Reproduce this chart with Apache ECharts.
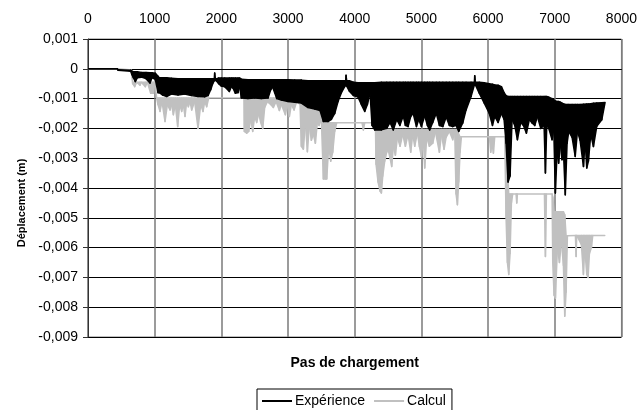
<!DOCTYPE html>
<html>
<head>
<meta charset="utf-8">
<script src="https://cdn.jsdelivr.net/npm/echarts@6/dist/echarts.min.js"></script>
<style>
html,body{margin:0;padding:0;background:#fff;}
#chart{width:640px;height:410px;}
</style>
</head>
<body>
<div id="chart"></div>
<script>
// Axis settings
const xMin = 0, xMax = 8000, xStep = 1000;
const yMin = -0.009, yMax = 0.001, yStep = 0.001;

// Expérience: [pas de chargement, upper edge (m), lower edge (m)] of the oscillating signal
const expData = [[0,0,0],[440,0,0],[450,-0.00003,-0.00005],[640,-0.00005,-0.00008],[660,-0.00008,-0.0002],[680,-0.0001,-0.0003],[710,-0.0001,-0.00043],[740,-0.0001,-0.0003],[800,-0.00012,-0.00028],[870,-0.00012,-0.00033],[930,-0.00013,-0.00048],[960,-0.00013,-0.0003],[1010,-0.00015,-0.00035],[1050,-0.00025,-0.0008],[1070,-0.0003,-0.0008],[1120,-0.0003,-0.00088],[1180,-0.0003,-0.00093],[1250,-0.00032,-0.00085],[1350,-0.00033,-0.00088],[1450,-0.00033,-0.00085],[1550,-0.00033,-0.0009],[1650,-0.00033,-0.00093],[1750,-0.00033,-0.00094],[1800,-0.00033,-0.0009],[1840,-0.00033,-0.0007],[1870,-0.00033,-0.0005],[1895,-0.00033,-0.0004],[1900,-0.00014,-0.00038],[1910,-0.00033,-0.00038],[1930,-0.00033,-0.00042],[1960,-0.00031,-0.0005],[2000,-0.00031,-0.00058],[2050,-0.00031,-0.0006],[2120,-0.00031,-0.00076],[2150,-0.00031,-0.0006],[2175,-0.00031,-0.00065],[2210,-0.00031,-0.00082],[2250,-0.00031,-0.0008],[2275,-0.00031,-0.0006],[2300,-0.00035,-0.00098],[2400,-0.00037,-0.001],[2500,-0.00037,-0.00098],[2600,-0.00037,-0.001],[2700,-0.00037,-0.00098],[2740,-0.00037,-0.0007],[2770,-0.00037,-0.00062],[2800,-0.00037,-0.0008],[2830,-0.00037,-0.001],[2900,-0.00037,-0.00105],[3000,-0.00037,-0.0011],[3100,-0.00038,-0.00112],[3200,-0.00038,-0.00115],[3300,-0.0004,-0.0013],[3400,-0.0004,-0.00135],[3480,-0.0004,-0.0014],[3530,-0.0004,-0.00177],[3600,-0.0004,-0.00177],[3650,-0.0004,-0.0017],[3700,-0.0004,-0.0015],[3750,-0.0004,-0.0011],[3800,-0.0004,-0.0008],[3850,-0.0004,-0.0006],[3865,-0.0004,-0.00055],[3870,-0.00022,-0.00055],[3880,-0.0004,-0.00058],[3920,-0.0004,-0.00075],[3980,-0.00045,-0.0009],[4050,-0.00047,-0.00095],[4100,-0.00047,-0.0012],[4150,-0.00047,-0.00143],[4190,-0.00047,-0.0012],[4230,-0.00047,-0.00082],[4260,-0.00047,-0.0019],[4300,-0.00047,-0.00205],[4400,-0.00045,-0.00205],[4480,-0.00045,-0.002],[4530,-0.00045,-0.0018],[4578,-0.00045,-0.00205],[4630,-0.00045,-0.0017],[4677,-0.00045,-0.0019],[4727,-0.00045,-0.00158],[4760,-0.00045,-0.0019],[4800,-0.00045,-0.00194],[4840,-0.00045,-0.0016],[4876,-0.00045,-0.00149],[4926,-0.00045,-0.00194],[4960,-0.00045,-0.0017],[5000,-0.00045,-0.00194],[5050,-0.00045,-0.00158],[5090,-0.00045,-0.0019],[5124,-0.00045,-0.00205],[5170,-0.00045,-0.0018],[5223,-0.00045,-0.00149],[5270,-0.00045,-0.0019],[5322,-0.00045,-0.00194],[5372,-0.00045,-0.00162],[5420,-0.00045,-0.0019],[5471,-0.00045,-0.00194],[5520,-0.00045,-0.0019],[5560,-0.00045,-0.0021],[5620,-0.00045,-0.00182],[5670,-0.00045,-0.00138],[5745,-0.00045,-0.00093],[5795,-0.00045,-0.00054],[5800,-0.00023,-0.0005],[5810,-0.00045,-0.00054],[5868,-0.00045,-0.00082],[5943,-0.00047,-0.00115],[6017,-0.0005,-0.00149],[6066,-0.00052,-0.0019],[6100,-0.00054,-0.0016],[6150,-0.00055,-0.0018],[6200,-0.0006,-0.0015],[6240,-0.0008,-0.0017],[6270,-0.0009,-0.0025],[6300,-0.00093,-0.0038],[6330,-0.00093,-0.0036],[6360,-0.00093,-0.0017],[6400,-0.00093,-0.0019],[6440,-0.00093,-0.00238],[6490,-0.00093,-0.0018],[6530,-0.00093,-0.0019],[6575,-0.00093,-0.00216],[6620,-0.00093,-0.0017],[6660,-0.00093,-0.00182],[6700,-0.00093,-0.0019],[6740,-0.00093,-0.0016],[6790,-0.00093,-0.002],[6840,-0.00093,-0.0019],[6860,-0.00093,-0.0035],[6880,-0.00093,-0.0019],[6910,-0.00095,-0.002],[6960,-0.001,-0.00238],[6985,-0.00104,-0.002],[7009,-0.00108,-0.00417],[7035,-0.0011,-0.0028],[7058,-0.0011,-0.00317],[7085,-0.00112,-0.0025],[7108,-0.00115,-0.00305],[7135,-0.00118,-0.003],[7158,-0.0012,-0.00423],[7185,-0.0012,-0.0025],[7210,-0.0012,-0.0021],[7260,-0.0012,-0.0023],[7307,-0.0012,-0.00294],[7340,-0.0012,-0.0021],[7380,-0.0012,-0.0024],[7431,-0.00119,-0.00328],[7455,-0.00119,-0.0024],[7480,-0.00118,-0.00333],[7505,-0.00118,-0.0031],[7540,-0.00117,-0.0022],[7580,-0.00116,-0.00261],[7630,-0.00115,-0.00193],[7705,-0.00114,-0.00171],[7755,-0.00113,-0.00113]];

// Calcul: [pas de chargement, base level (m), lower edge (m)] of the computed signal
const calData = [[0,0,0],[440,0,0],[620,-0.00003,-0.00005],[650,-0.00005,-0.0001],[670,-0.00045,-0.0005],[700,-0.00045,-0.0006],[730,-0.00045,-0.00045],[780,-0.00045,-0.00055],[800,-0.00045,-0.00045],[860,-0.00045,-0.0006],[890,-0.00045,-0.00045],[940,-0.00045,-0.00082],[980,-0.00045,-0.00082],[1000,-0.00045,-0.00045],[1030,-0.00098,-0.00098],[1050,-0.00098,-0.0012],[1080,-0.00098,-0.00143],[1110,-0.00098,-0.0011],[1155,-0.00098,-0.00177],[1190,-0.00098,-0.0012],[1230,-0.00098,-0.00138],[1255,-0.00098,-0.0012],[1280,-0.00098,-0.00154],[1310,-0.00098,-0.0012],[1345,-0.00098,-0.00194],[1375,-0.00098,-0.0012],[1405,-0.00098,-0.00143],[1430,-0.00098,-0.0012],[1455,-0.00098,-0.0016],[1480,-0.00098,-0.0011],[1505,-0.00098,-0.00127],[1530,-0.00098,-0.0011],[1555,-0.00098,-0.00138],[1600,-0.00098,-0.0011],[1650,-0.00098,-0.002],[1690,-0.00098,-0.0012],[1725,-0.00098,-0.00143],[1750,-0.00098,-0.0011],[1780,-0.00098,-0.00127],[1810,-0.00098,-0.00098],[2340,-0.00098,-0.00098],[2345,-0.00098,-0.0021],[2380,-0.00098,-0.00216],[2410,-0.00098,-0.0021],[2440,-0.00098,-0.0017],[2470,-0.00098,-0.0021],[2500,-0.00098,-0.0016],[2530,-0.00098,-0.0018],[2560,-0.00098,-0.0015],[2590,-0.00098,-0.0018],[2620,-0.00098,-0.002],[2650,-0.00098,-0.0013],[2690,-0.00098,-0.0011],[2740,-0.00098,-0.0012],[2780,-0.00098,-0.0013],[2820,-0.00098,-0.0011],[2870,-0.00098,-0.0014],[2900,-0.00098,-0.0012],[2960,-0.00098,-0.00154],[2990,-0.00098,-0.0012],[3020,-0.00098,-0.0016],[3050,-0.00098,-0.0012],[3090,-0.00098,-0.00138],[3130,-0.00098,-0.0011],[3180,-0.00098,-0.0012],[3200,-0.00098,-0.0026],[3230,-0.00098,-0.0027],[3260,-0.00098,-0.0018],[3290,-0.00098,-0.00278],[3320,-0.00098,-0.0019],[3350,-0.00098,-0.0024],[3380,-0.00098,-0.0022],[3410,-0.00098,-0.0025],[3440,-0.00098,-0.0018],[3465,-0.00098,-0.0019],[3500,-0.00098,-0.0017],[3530,-0.00181,-0.0037],[3560,-0.00181,-0.0037],[3580,-0.00181,-0.0037],[3610,-0.00181,-0.0026],[3640,-0.00181,-0.0031],[3670,-0.00181,-0.0028],[3700,-0.00181,-0.0021],[3730,-0.00181,-0.00181],[4110,-0.00181,-0.00181],[4130,-0.00181,-0.00205],[4150,-0.00181,-0.00181],[4310,-0.00181,-0.00181],[4320,-0.0019,-0.0032],[4350,-0.002,-0.0038],[4380,-0.002,-0.0041],[4400,-0.002,-0.00417],[4420,-0.00204,-0.0036],[4450,-0.00204,-0.0031],[4480,-0.00204,-0.0028],[4500,-0.00204,-0.0027],[4530,-0.00204,-0.003],[4555,-0.00204,-0.00328],[4580,-0.00204,-0.0026],[4610,-0.00204,-0.0029],[4640,-0.00204,-0.0023],[4680,-0.00204,-0.0026],[4720,-0.00204,-0.0022],[4760,-0.00204,-0.0026],[4800,-0.00204,-0.0022],[4840,-0.00204,-0.0028],[4870,-0.00204,-0.0022],[4900,-0.00204,-0.0026],[4940,-0.00204,-0.00215],[4970,-0.00204,-0.0026],[5000,-0.00204,-0.00294],[5030,-0.00204,-0.0024],[5050,-0.00204,-0.00333],[5080,-0.00204,-0.0023],[5120,-0.00204,-0.0026],[5170,-0.00204,-0.0025],[5210,-0.00204,-0.0021],[5270,-0.00204,-0.0028],[5300,-0.00204,-0.0022],[5340,-0.00204,-0.0027],[5370,-0.00204,-0.0023],[5420,-0.00204,-0.0021],[5470,-0.00204,-0.00238],[5500,-0.00204,-0.0021],[5520,-0.00204,-0.0042],[5540,-0.00204,-0.00456],[5560,-0.0022,-0.0038],[5580,-0.00228,-0.0028],[5600,-0.00228,-0.00228],[6020,-0.00228,-0.00228],[6040,-0.00228,-0.0028],[6060,-0.00228,-0.0025],[6080,-0.00228,-0.00283],[6100,-0.00228,-0.00228],[6250,-0.00228,-0.00228],[6270,-0.0025,-0.005],[6290,-0.0033,-0.0065],[6310,-0.0042,-0.0069],[6330,-0.0042,-0.0062],[6350,-0.0042,-0.0045],[6370,-0.0042,-0.0042],[6420,-0.0042,-0.0042],[6430,-0.0042,-0.0045],[6440,-0.0042,-0.0042],[6845,-0.0042,-0.0042],[6860,-0.0042,-0.0063],[6875,-0.0042,-0.0042],[6960,-0.0042,-0.0042],[6970,-0.0043,-0.0065],[6990,-0.0048,-0.0076],[7010,-0.0048,-0.0077],[7040,-0.0048,-0.006],[7070,-0.0048,-0.0065],[7100,-0.0048,-0.0058],[7130,-0.0048,-0.0066],[7150,-0.0049,-0.0083],[7170,-0.0056,-0.0075],[7190,-0.0056,-0.0056],[7310,-0.00559,-0.00559],[7320,-0.00559,-0.0063],[7330,-0.00559,-0.00559],[7400,-0.00559,-0.0059],[7430,-0.00559,-0.0069],[7450,-0.00559,-0.006],[7480,-0.00559,-0.0069],[7500,-0.00559,-0.007],[7520,-0.00559,-0.0062],[7550,-0.00559,-0.006],[7570,-0.00559,-0.00559],[7750,-0.00559,-0.00559]];

const seriesNames = ['Expérience', 'Calcul'];
const seriesColors = ['#000000', '#c0c0c0'];

// consecutive rows joined into segments [x0, hi0, lo0, x1, hi1, lo1]
function segments(rows) {
  const out = [];
  for (let i = 0; i < rows.length - 1; i++) {
    out.push(rows[i].concat(rows[i + 1]));
  }
  return out;
}

function renderBand(params, api) {
  const c = api.visual('color');
  const a = api.coord([api.value(0), api.value(1)]);
  const b = api.coord([api.value(3), api.value(4)]);
  const d = api.coord([api.value(3), api.value(5)]);
  const e = api.coord([api.value(0), api.value(2)]);
  return {
    type: 'polygon',
    shape: { points: [a, b, d, e] },
    style: { fill: c, stroke: c, lineWidth: 1.5, lineJoin: 'round' }
  };
}

const font = 'Liberation Sans, Arial, sans-serif';
const chart = echarts.init(document.getElementById('chart'), null, { renderer: 'canvas' });
chart.setOption({
  animation: false,
  backgroundColor: '#fff',
  textStyle: { fontFamily: font, color: '#000' },
  grid: { left: 88, right: 16, top: 39, bottom: 73, show: true, borderColor: '#808080', borderWidth: 1 },
  legend: {
    data: [{ name: seriesNames[0], icon: 'rect' }, { name: seriesNames[1], icon: 'rect' }],
    left: 257, top: 389,
    itemWidth: 30, itemHeight: 2, itemGap: 9,
    padding: [5, 6, 6, 5],
    borderColor: '#000', borderWidth: 1,
    textStyle: { fontFamily: font, fontSize: 14, color: '#000', padding: [0, 0, 0, -2] }
  },
  xAxis: [{
    type: 'value', position: 'top', min: xMin, max: xMax, interval: xStep,
    axisLine: { show: true, lineStyle: { color: '#000' } },
    axisTick: { show: false },
    axisLabel: { margin: 13, fontSize: 14, color: '#000', fontFamily: font, formatter: v => String(v) },
    splitLine: { show: true, lineStyle: { color: '#7a7a7a', width: 1.5 } }
  }, {
    type: 'value', position: 'bottom', min: xMin, max: xMax,
    axisLine: { show: false }, axisTick: { show: false }, axisLabel: { show: false }, splitLine: { show: false },
    name: 'Pas de chargement', nameLocation: 'middle', nameGap: 19,
    nameTextStyle: { fontFamily: font, fontSize: 14, fontWeight: 'bold', color: '#000' }
  }],
  yAxis: {
    type: 'value', min: yMin, max: yMax, interval: yStep,
    axisLine: { show: true, lineStyle: { color: '#333' } },
    axisTick: { show: true, length: 5, lineStyle: { color: '#333' } },
    axisLabel: {
      margin: 10, fontSize: 14, color: '#000', fontFamily: font,
      formatter: v => Math.abs(v) < 1e-12 ? '0' : v.toFixed(3).replace('.', ',')
    },
    splitLine: { show: true, lineStyle: { color: '#000', width: 1 } },
    name: 'Déplacement (m)', nameLocation: 'middle', nameGap: 60,
    nameTextStyle: { fontFamily: font, fontSize: 11, fontWeight: 'bold', color: '#000', padding: [0, 30, 0, 0] }
  },
  series: [{
    name: seriesNames[0], type: 'custom', xAxisIndex: 0, z: 3,
    itemStyle: { color: seriesColors[0] },
    renderItem: renderBand, clip: true,
    encode: { x: [0, 3], y: [1, 2, 4, 5] },
    data: segments(expData)
  }, {
    name: seriesNames[1], type: 'custom', xAxisIndex: 0, z: 2,
    itemStyle: { color: seriesColors[1] },
    renderItem: renderBand, clip: true,
    encode: { x: [0, 3], y: [1, 2, 4, 5] },
    data: segments(calData)
  }]
});
</script>
</body>
</html>
